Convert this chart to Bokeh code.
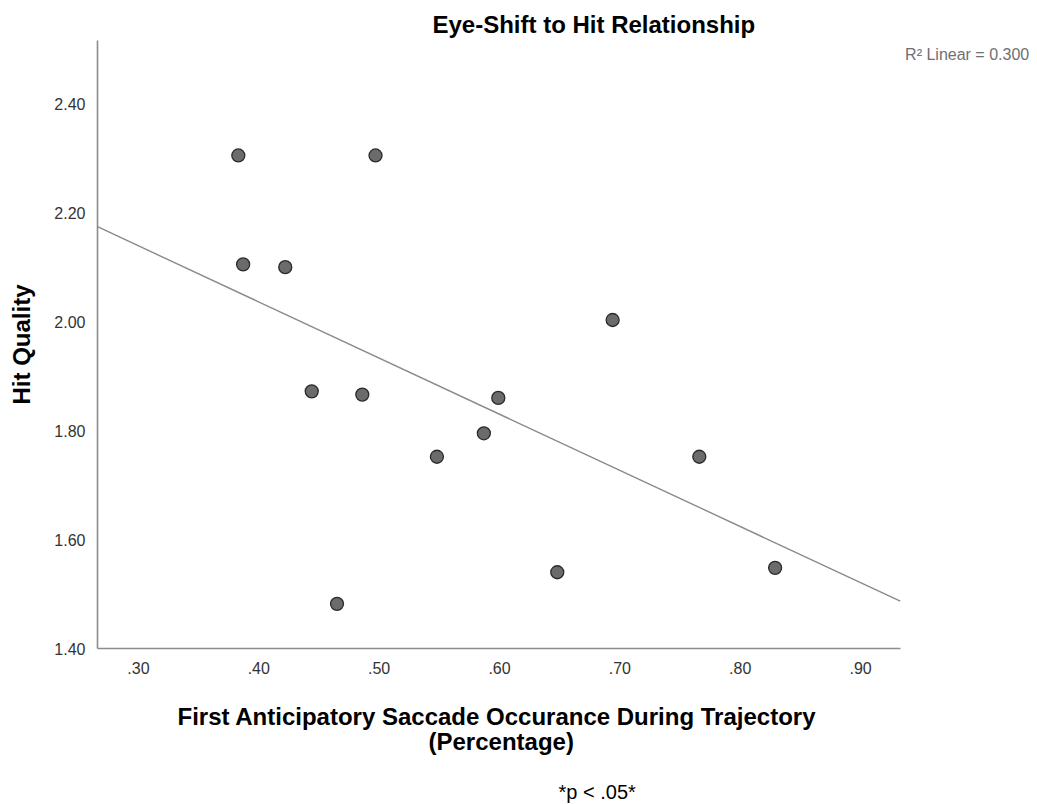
import numpy as np
from bokeh.plotting import figure
from bokeh.models import Range1d, FixedTicker, Label, Title
from bokeh.embed import file_html
from bokeh.resources import INLINE

# ---- data ----
saccade_pct = [0.383, 0.497, 0.387, 0.422, 0.444, 0.486, 0.599, 0.587,
               0.548, 0.694, 0.648, 0.465, 0.766, 0.829]
hit_quality = [2.305, 2.305, 2.105, 2.10, 1.872, 1.866, 1.86, 1.795,
               1.752, 2.003, 1.54, 1.482, 1.752, 1.548]

x_ticks = [0.3, 0.4, 0.5, 0.6, 0.7, 0.8, 0.9]
x_tick_labels = [".30", ".40", ".50", ".60", ".70", ".80", ".90"]
y_ticks = [1.4, 1.6, 1.8, 2.0, 2.2, 2.4]
y_tick_labels = ["1.40", "1.60", "1.80", "2.00", "2.20", "2.40"]

title_text = "Eye-Shift to Hit Relationship"
x_label_line1 = "First Anticipatory Saccade Occurance During Trajectory"
x_label_line2 = "(Percentage)"
y_label = "Hit Quality"
note_text = "*p < .05*"
r2_text = "R\u00b2 Linear = 0.300"

# axis extent (drawn axis) and visible window (extra room on the right for the R² note)
X_START, X_AXIS_END = 0.266, 0.933
X_VIEW_END = 1.047
Y_START, Y_END = 1.40, 2.516

FONT = "Liberation Sans"

p = figure(width=1037, height=804, output_backend="svg", toolbar_location=None,
           x_range=Range1d(X_START, X_VIEW_END), y_range=Range1d(Y_START, Y_END),
           min_border_left=97, min_border_right=0, min_border_top=40,
           min_border_bottom=156)

p.background_fill_color = "white"
p.border_fill_color = "white"
p.outline_line_color = None
p.grid.grid_line_color = None

# title
p.title.text = title_text
p.title.align = "left"
p.title.offset = 335
p.title.text_font = FONT
p.title.text_font_size = "24px"
p.title.text_font_style = "bold"
p.title.text_color = "#000000"
p.title.standoff = 6

# axes
for ax in (p.xaxis[0], p.yaxis[0]):
    ax.axis_line_color = "#8c8c8c"
    ax.axis_line_width = 1.6
    ax.major_tick_line_color = None
    ax.minor_tick_line_color = None
    ax.major_label_text_font = FONT
    ax.major_label_text_font_size = "16px"
    ax.major_label_text_color = "#333333"
    ax.axis_label_text_font = FONT
    ax.axis_label_text_font_size = "24px"
    ax.axis_label_text_font_style = "bold"
    ax.axis_label_text_color = "#000000"

p.xaxis[0].bounds = (X_START, X_AXIS_END)
p.xaxis[0].ticker = FixedTicker(ticks=x_ticks)
p.xaxis[0].major_label_overrides = dict(zip(x_ticks, x_tick_labels))
p.xaxis[0].major_label_standoff = 7

p.yaxis[0].ticker = FixedTicker(ticks=y_ticks)
p.yaxis[0].major_label_overrides = dict(zip(y_ticks, y_tick_labels))
p.yaxis[0].axis_label = y_label
p.yaxis[0].major_label_standoff = 6
p.yaxis[0].axis_label_standoff = 16

# gap, x-axis title (two lines centred under the drawn axis), gap, note
p.add_layout(Title(text=" ", text_font_size="1px", standoff=21), "below")
p.add_layout(Title(text=x_label_line1, align="left", offset=80, text_font=FONT,
                   text_font_size="24px", text_font_style="bold",
                   text_color="#000000", standoff=0), "below")
p.add_layout(Title(text=x_label_line2, align="left", offset=331, text_font=FONT,
                   text_font_size="24px", text_font_style="bold",
                   text_color="#000000", standoff=-8), "below")
p.add_layout(Title(text=" ", text_font_size="1px", standoff=25), "below")
p.add_layout(Title(text=note_text, align="left", offset=461, text_font=FONT,
                   text_font_size="20px", text_font_style="normal",
                   text_color="#000000", standoff=0), "below")

# regression line from the data, across the drawn axis extent
slope, intercept = np.polyfit(saccade_pct, hit_quality, 1)
fit_x = [X_START, X_AXIS_END]
fit_y = [intercept + slope * v for v in fit_x]
p.line(fit_x, fit_y, line_color="#8a8a8a", line_width=1.4)

# points
p.scatter(saccade_pct, hit_quality, size=13, fill_color="#6b6b6b",
          line_color="#2b2b2b", line_width=1.3)

# R^2 note at the top right
p.add_layout(Label(x=X_AXIS_END + 0.004, y=2.49, text=r2_text,
                   text_font=FONT, text_font_size="16px", text_color="#707070",
                   text_align="left", text_baseline="middle"))

open("out.html", "w").write(file_html(p, INLINE))
